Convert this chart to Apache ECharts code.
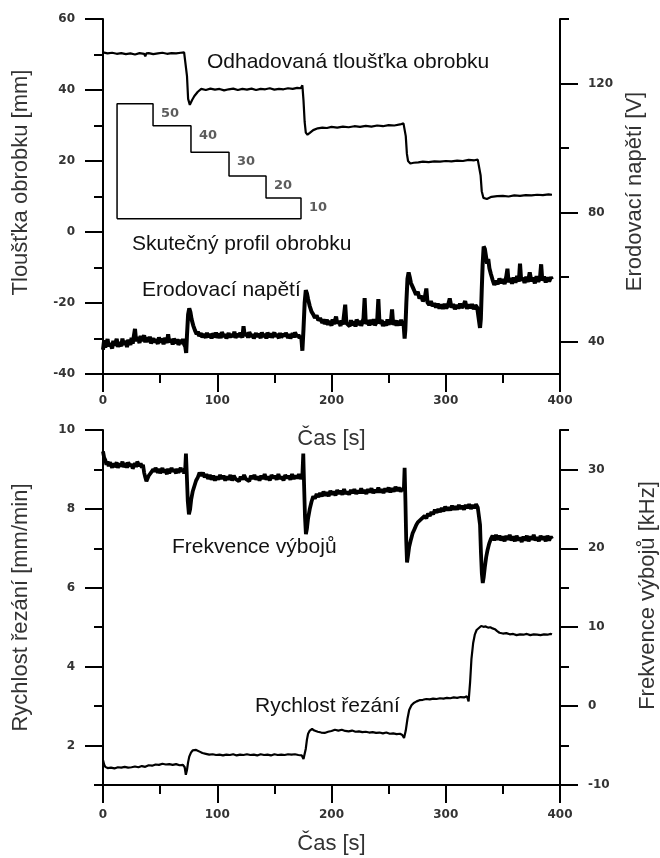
<!DOCTYPE html>
<html><head><meta charset="utf-8">
<script src="https://cdn.jsdelivr.net/npm/echarts@6/dist/echarts.min.js"></script>
<style>html,body{margin:0;padding:0;background:#fff}#c{width:660px;height:858px}</style>
</head><body><div id="c"></div>
<script>
// ---- Data (time [s], value) ----
const thickness = [[0,50.6],[4,50.3],[8,50.5],[12,50.2],[16,50.4],[20,50.1],[24,50.3],[28,50.0],[32,50.4],[36,50.2],[37,49.5],[38,50.3],[40,50.4],[44,50.1],[48,50.3],[52,50.5],[56,50.2],[60,50.4],[64,50.3],[68,50.5],[71,50.6],[72.5,50.4],[73.5,44],[74.5,37.5],[76,35.8],[78,37.2],[80,38.3],[83,39.5],[86,40.3],[90,40.0],[94,40.4],[98,40.1],[102,40.3],[106,39.9],[110,40.2],[114,40.4],[118,40.0],[122,40.3],[126,40.1],[130,40.4],[134,40.0],[138,40.3],[142,40.2],[146,40.5],[150,40.1],[154,40.3],[158,40.2],[162,40.5],[166,40.3],[170,40.6],[173,40.5],[174.5,41.3],[175.5,37],[176.5,31],[177.5,28],[179,27.4],[181,27.9],[184,28.7],[188,29.2],[192,29.4],[196,29.3],[200,29.6],[205,29.4],[210,29.7],[215,29.5],[220,29.8],[225,29.6],[230,29.9],[235,29.7],[240,30.0],[245,29.8],[250,30.1],[255,30.0],[260,30.3],[263,30.6],[264,30.9],[265,27],[266,22],[267,20],[269,19.3],[272,19.5],[276,19.6],[280,19.8],[285,19.7],[290,19.9],[295,19.8],[300,20.0],[305,19.9],[310,20.1],[315,20.0],[320,20.3],[325,20.2],[328,20.4],[329.5,20.6],[330.5,16],[331.5,11.5],[333,9.6],[336,9.3],[340,9.9],[345,10.1],[350,10.2],[355,10.0],[360,10.3],[365,10.2],[370,10.4],[375,10.3],[380,10.5],[385,10.4],[390,10.6],[393,10.5]];

const voltage = [[0,37.5],[1,40.5],[2,38.2],[4,40.8],[5,38.5],[6,39.6],[8,37.9],[9,40.3],[10,38.8],[12,40.9],[13,38.4],[14,39.8],[16,38.6],[17,41.0],[18,39.1],[20,40.2],[21,38.3],[22,40.6],[24,39.0],[25,41.2],[26,39.4],[28,44.0],[29,40.1],[30,41.5],[32,39.6],[33,41.8],[34,40.2],[36,42.0],[37,39.8],[38,41.3],[40,40.0],[41,41.6],[42,39.5],[44,41.1],[45,39.7],[46,40.8],[48,39.3],[49,41.4],[50,39.8],[52,40.9],[53,39.2],[54,41.2],[56,39.6],[57,42.3],[58,39.9],[60,40.7],[61,39.1],[62,41.0],[64,39.5],[65,40.8],[66,39.0],[68,40.6],[69,39.3],[70,40.9],[71,39.2],[72,38.5],[72.8,36.5],[73.5,42],[74.5,48.5],[75.5,50.3],[76.5,49.2],[77.5,47],[79,45],[80.5,43.5],[82,42.3],[83,43.2],[84,41.8],[86,42.6],[87,41.3],[88,42.4],[90,41.2],[91,42.8],[92,41.5],[94,42.3],[95,41.0],[96,42.6],[98,41.4],[99,42.9],[100,41.2],[102,42.5],[103,41.1],[104,43.0],[106,41.5],[107,42.4],[108,41.0],[110,42.7],[111,41.3],[112,42.2],[114,41.6],[115,43.1],[116,41.2],[118,42.5],[119,41.4],[120,42.8],[122,41.3],[123,44.8],[124,41.9],[126,42.6],[127,41.2],[128,43.0],[130,41.5],[131,42.4],[132,41.0],[134,42.7],[135,41.4],[136,42.5],[138,41.1],[139,42.9],[140,41.6],[142,42.3],[143,41.0],[144,42.8],[146,41.4],[147,42.6],[148,41.2],[150,42.9],[151,41.5],[152,42.4],[154,41.1],[155,42.7],[156,41.3],[158,42.5],[159,41.6],[160,42.8],[162,41.2],[163,42.4],[164,41.0],[166,42.6],[167,41.3],[168,42.9],[170,41.5],[171,42.2],[172,41.1],[173.5,41.8],[174.5,37.2],[175.5,44],[176.5,52],[177.5,56.0],[178.5,55.0],[179.5,53.2],[181,51.0],[182.5,49.3],[184,48.5],[185.5,47.4],[187,48.2],[188.5,46.6],[190,47.3],[192,45.8],[193,47.0],[194,45.5],[196,46.8],[197,45.2],[198,46.5],[200,45.0],[201,46.9],[202,45.4],[204,47.8],[205,45.6],[206,46.4],[208,44.9],[209,46.6],[210,45.3],[212,51.5],[213,45.8],[214,46.2],[216,44.8],[217,46.7],[218,45.1],[220,46.3],[221,44.7],[222,46.9],[224,45.2],[225,46.5],[226,44.9],[228,47.2],[229,53.5],[230,45.5],[232,46.6],[233,45.0],[234,46.8],[236,45.3],[237,47.0],[238,45.1],[240,46.4],[241,53.2],[242,45.6],[244,46.7],[245,44.8],[246,46.2],[248,45.0],[249,46.9],[250,45.4],[252,46.3],[253,50.0],[254,45.2],[256,46.6],[257,44.9],[258,46.4],[260,45.1],[261,46.8],[262,45.3],[263,46.0],[264,41.0],[264.6,43.5],[265.5,52],[266.5,59.5],[267.5,61.5],[268.5,60.0],[269.5,58.2],[271,57.0],[272.5,55.8],[274,54.6],[275.5,55.5],[277,53.4],[278.5,54.2],[280,52.6],[281.5,53.3],[283,56.5],[284,52.2],[285.5,51.4],[287,52.6],[288.5,51.0],[290,51.9],[291.5,50.6],[293,51.8],[294.5,50.3],[296,51.5],[297.5,50.2],[299,51.7],[300.5,50.4],[302,51.3],[303.5,53.4],[305,50.6],[306.5,51.6],[308,50.1],[309.5,51.4],[311,50.3],[312.5,51.8],[314,50.5],[315.5,51.2],[317,52.6],[318.5,50.2],[320,51.5],[321.5,50.4],[323,51.6],[324.5,50.1],[326,51.3],[327.5,50.6],[329,51.0],[330,44.3],[330.7,47],[331.5,56],[332.3,64],[333.2,69.5],[334.2,68.8],[335.2,66.5],[336.2,64.2],[337.2,65.6],[338.2,62.8],[339.5,61.0],[341,59.2],[342.5,57.6],[344,58.9],[345.5,57.8],[347,59.6],[348.5,58.1],[350,59.4],[351.5,57.9],[353,60.2],[354,62.6],[355,58.4],[356.5,59.7],[358,58.0],[359.5,59.9],[361,58.3],[362.5,60.4],[364,58.6],[365,64.2],[366,58.9],[367.5,59.8],[369,58.2],[370.5,60.1],[372,58.5],[373.5,61.5],[375,58.7],[376.5,59.9],[378,58.1],[379.5,60.3],[381,58.6],[382.5,59.8],[383.5,64.0],[384.5,58.9],[386,60.2],[387.5,58.4],[389,59.9],[390.5,58.7],[392,60.0],[393,59.3]];

const frequency = [[0,32.3],[1,31.5],[2,31.2],[3,30.6],[4,31.0],[5,30.4],[6,30.9],[8,30.2],[9,30.8],[10,30.3],[12,30.9],[13,30.2],[14,30.7],[16,30.4],[17,31.0],[18,30.3],[20,30.8],[21,30.2],[22,30.9],[24,30.4],[25,30.7],[26,30.1],[28,30.8],[29,30.3],[30,31.0],[32,30.4],[33,30.8],[34,30.2],[35,30.6],[36,29.6],[37,29.0],[38,28.5],[39,28.7],[40,29.2],[41,29.0],[42,29.6],[43,29.4],[44,30.0],[45,29.7],[46,30.2],[48,29.6],[49,30.1],[50,29.5],[52,30.2],[53,29.6],[54,30.0],[56,29.4],[57,30.1],[58,29.5],[60,30.2],[61,29.7],[62,30.0],[64,29.5],[65,30.1],[66,29.6],[68,30.2],[69,29.7],[70,30.0],[71,29.5],[72,30.2],[72.6,32.0],[73.3,29.5],[74.2,26.0],[75.2,24.3],[76.2,24.9],[77.2,26.2],[78.5,27.2],[80,27.9],[81.5,28.6],[83,29.0],[84.5,29.6],[86,29.2],[87.5,29.6],[89,29.0],[90.5,29.4],[92,28.8],[93.5,29.3],[95,28.7],[96.5,29.2],[98,28.6],[99.5,29.1],[101,28.7],[102.5,29.3],[104,28.8],[105.5,29.2],[107,28.6],[108.5,29.1],[110,28.7],[111.5,29.3],[113,28.6],[114.5,29.2],[116,28.8],[117.5,29.0],[119,28.5],[120.5,29.1],[122,28.7],[123.5,29.3],[125,28.8],[126.5,29.0],[128,28.5],[129.5,29.2],[131,28.8],[132.5,29.3],[134,28.7],[135.5,29.1],[137,28.6],[138.5,29.2],[140,28.8],[141.5,29.4],[143,28.7],[144.5,29.1],[146,28.6],[147.5,29.3],[149,28.9],[150.5,29.2],[152,28.7],[153.5,29.4],[155,28.8],[156.5,29.1],[158,28.6],[159.5,29.3],[161,28.9],[162.5,29.2],[164,28.7],[165.5,29.4],[167,28.8],[168.5,29.2],[170,28.9],[171.5,29.4],[173,28.8],[174.5,29.2],[175.3,32.0],[176,28.0],[176.8,24.0],[177.6,21.8],[178.5,22.5],[179.5,23.8],[181,25.0],[182.5,25.9],[184,26.6],[185.5,26.3],[187,26.9],[188.5,26.5],[190,27.0],[191.5,26.6],[193,27.2],[194.5,26.7],[196,27.1],[197.5,26.6],[199,27.3],[200.5,26.8],[202,27.2],[203.5,26.7],[205,27.4],[206.5,26.9],[208,27.3],[209.5,26.8],[211,27.5],[212.5,26.9],[214,27.2],[215.5,26.8],[217,27.4],[218.5,27.0],[220,27.5],[221.5,26.9],[223,27.3],[224.5,27.0],[226,27.6],[227.5,27.0],[229,27.4],[230.5,26.9],[232,27.5],[233.5,27.1],[235,27.6],[236.5,27.0],[238,27.4],[239.5,27.1],[241,27.7],[242.5,27.1],[244,27.5],[245.5,27.0],[247,27.6],[248.5,27.2],[250,27.7],[251.5,27.1],[253,27.6],[254.5,27.2],[256,27.8],[257.5,27.3],[259,27.7],[260.5,27.2],[262,27.6],[263.3,27.3],[264,30.2],[264.7,26.0],[265.4,21.0],[266.1,18.2],[266.9,19.0],[268,20.2],[269.5,21.1],[271,21.9],[272.5,22.4],[274,22.9],[275.5,23.3],[277,23.1],[278.5,23.7],[280,23.5],[281.5,24.1],[283,23.8],[284.5,24.4],[286,24.1],[287.5,24.6],[289,24.3],[290.5,24.9],[292,24.5],[293.5,25.0],[295,24.6],[296.5,25.1],[298,24.7],[299.5,25.3],[301,24.8],[302.5,25.2],[304,24.8],[305.5,25.4],[307,24.9],[308.5,25.3],[310,24.9],[311.5,25.5],[313,25.0],[314.5,25.4],[316,24.9],[317.5,25.5],[319,25.1],[320.5,25.6],[322,25.0],[323.5,25.5],[325,25.1],[326.5,25.6],[328,25.2],[329.2,25.4],[330,23.0],[330.8,19.5],[331.6,16.8],[332.4,15.6],[333.2,16.3],[334.2,17.6],[335.4,18.9],[336.6,19.8],[338,20.6],[339.5,21.2],[341,21.6],[342.5,21.0],[344,21.7],[345.5,21.1],[347,21.6],[348.5,21.0],[350,21.5],[351.5,20.9],[353,21.6],[354.5,21.1],[356,21.7],[357.5,21.0],[359,21.5],[360.5,20.9],[362,21.6],[363.5,21.0],[365,21.4],[366.5,20.8],[368,21.5],[369.5,21.0],[371,21.6],[372.5,20.9],[374,21.5],[375.5,21.1],[377,21.7],[378.5,21.0],[380,21.4],[381.5,20.9],[383,21.6],[384.5,21.1],[386,21.5],[387.5,20.9],[389,21.6],[390.5,21.0],[392,21.5],[393,21.2]];

const cuttingRate = [[0,1.63],[1,1.52],[2,1.46],[4,1.43],[7,1.44],[10,1.42],[13,1.45],[16,1.44],[19,1.46],[22,1.44],[25,1.45],[28,1.47],[31,1.45],[34,1.48],[37,1.46],[40,1.50],[43,1.49],[46,1.52],[49,1.51],[52,1.54],[55,1.52],[58,1.53],[61,1.51],[64,1.53],[67,1.50],[70,1.51],[71.5,1.45],[72.5,1.26],[73.5,1.38],[74.5,1.58],[75.5,1.72],[77,1.82],[78.5,1.88],[80,1.91],[81.5,1.89],[83,1.86],[85,1.84],[87,1.81],[90,1.79],[93,1.77],[96,1.78],[99,1.76],[102,1.77],[105,1.75],[108,1.77],[111,1.76],[114,1.78],[117,1.75],[120,1.77],[123,1.76],[126,1.78],[129,1.76],[132,1.77],[135,1.75],[138,1.78],[141,1.76],[144,1.77],[147,1.75],[150,1.78],[153,1.76],[156,1.77],[159,1.76],[162,1.78],[165,1.77],[168,1.78],[171,1.76],[174,1.75],[175.5,1.66],[176.5,1.70],[177.5,1.92],[178.5,2.15],[179.5,2.30],[181,2.38],[183,2.42],[185,2.38],[188,2.35],[191,2.33],[194,2.32],[197,2.35],[200,2.37],[203,2.40],[206,2.38],[209,2.40],[212,2.37],[215,2.36],[218,2.38],[221,2.35],[224,2.36],[227,2.34],[230,2.35],[233,2.33],[236,2.34],[239,2.32],[242,2.33],[245,2.31],[248,2.33],[251,2.30],[254,2.31],[257,2.29],[260,2.30],[262,2.27],[263.5,2.19],[265,2.38],[266.5,2.68],[268,2.90],[270,3.02],[272,3.08],[274.5,3.12],[277,3.15],[280,3.16],[283,3.18],[286,3.17],[289,3.19],[292,3.18],[295,3.20],[298,3.19],[301,3.21],[304,3.20],[307,3.22],[310,3.21],[313,3.23],[316,3.22],[318.5,3.25],[320,3.12],[321.3,3.60],[322.5,4.20],[324,4.60],[325.5,4.82],[327,4.93],[329,4.98],[331,5.03],[333,5.01],[335,5.02],[337,4.99],[339,5.00],[341,4.97],[343,4.95],[345,4.90],[347,4.86],[350,4.84],[353,4.85],[356,4.82],[359,4.83],[362,4.80],[365,4.82],[368,4.81],[371,4.83],[374,4.80],[377,4.82],[380,4.81],[383,4.80],[386,4.82],[389,4.81],[392,4.83],[393,4.82]];

// real workpiece profile sketch (time-axis units, mm)
const profileT  = [12.3, 12.3, 43.8, 43.8, 77, 77, 110.3, 110.3, 142.7, 142.7, 173.3, 173.3, 12.3];
const profileMM = [3.7, 36.1, 36.1, 29.9, 29.9, 22.5, 22.5, 15.8, 15.8, 9.6, 9.6, 3.7, 3.7];
const stepLabels = ['50', '40', '30', '20', '10'];
const stepCornerIdx = [2, 4, 6, 8, 10];

// tick values
const thickTicks = [-40, -20, 0, 20, 40, 60];
const thickMinor = [-30, -10, 10, 30, 50];
const voltTicks = [40, 80, 120];
const voltMinor = [60, 100, 140];
const rateTicks = [2, 4, 6, 8, 10];
const rateMinor = [1, 3, 5, 7, 9];
const freqTicks = [-10, 0, 10, 20, 30];
const freqMinor = [-5, 5, 15, 25, 35];

// ---- Chart ----
const AX = '#000';
const TICKFONT = {fontFamily: 'DejaVu Sans', fontWeight: 'bold', fontSize: 12, color: '#333'};
const TITLEFONT = {fontFamily: '"Liberation Sans", Arial, sans-serif', fontSize: 22, color: '#333'};

function yPair(grid, pos, min, max, major, minor, name, gap, pad) {
  return [{
    type: 'value', gridIndex: grid, position: pos, min: min, max: max,
    axisLine: {show: true, onZero: false, lineStyle: {color: AX, width: 2}},
    axisTick: {show: true, length: 18, customValues: major, lineStyle: {color: AX, width: 2}},
    axisLabel: Object.assign({show: true, customValues: major, margin: 28}, TICKFONT),
    splitLine: {show: false},
    name: name, nameLocation: 'middle', nameGap: gap,
    nameTextStyle: Object.assign({padding: pad}, TITLEFONT)
  }, {
    type: 'value', gridIndex: grid, position: pos, min: min, max: max,
    axisLine: {show: false, onZero: false},
    axisTick: {show: true, length: 9, customValues: minor, lineStyle: {color: AX, width: 2}},
    axisLabel: {show: false},
    splitLine: {show: false}
  }];
}
function xAx(grid, gap, margin) {
  return {
    type: 'value', gridIndex: grid, min: 0, max: 400, interval: 100,
    axisLine: {onZero: false, lineStyle: {color: AX, width: 2}},
    axisTick: {length: 18, lineStyle: {color: AX, width: 2}},
    minorTick: {show: true, splitNumber: 2, length: 9, lineStyle: {color: AX, width: 2}},
    axisLabel: Object.assign({margin: margin}, TICKFONT),
    splitLine: {show: false}, minorSplitLine: {show: false},
    name: 'Čas [s]', nameLocation: 'middle', nameGap: gap, nameTextStyle: TITLEFONT
  };
}

const profileData = profileT.map((t, i) => [t, profileMM[i]]);
const stepLabelData = stepCornerIdx.map((idx, k) => ({value: [profileT[idx], profileMM[idx]], name: stepLabels[k]}));

const yAxes = [].concat(
  yPair(0, 'left', -40, 60, thickTicks, thickMinor, 'Tloušťka obrobku [mm]', 71, [0, 0, 0, 28]),
  yPair(0, 'right', 30, 140, voltTicks, voltMinor, 'Erodovací napětí [V]', 53, [0, 0, 0, 10]),
  yPair(1, 'left', 1, 10, rateTicks, rateMinor, 'Rychlost řezání [mm/min]', 71, [0, 0, 0, 0]),
  yPair(1, 'right', -10, 35, freqTicks, freqMinor, 'Frekvence výbojů [kHz]', 77, [0, 0, 0, 24])
);

const lineBase = {type: 'line', showSymbol: false, symbol: 'none', silent: true, animation: false, smooth: false};
const ANN = '21px "Liberation Sans", Arial, sans-serif';

const chart = echarts.init(document.getElementById('c'), null, {renderer: 'canvas'});
chart.setOption({
  backgroundColor: '#fff',
  animation: false,
  grid: [
    {left: 103, right: 100, top: 19, height: 355, outerBoundsMode: 'none', containLabel: false},
    {left: 103, right: 100, top: 430, height: 355, outerBoundsMode: 'none', containLabel: false}
  ],
  xAxis: [xAx(0, 54, 21), xAx(1, 48, 24)],
  yAxis: yAxes,
  series: [
    Object.assign({}, lineBase, {name: 'Odhadovaná tloušťka obrobku', xAxisIndex: 0, yAxisIndex: 0, data: thickness, lineStyle: {color: '#000', width: 2.2}}),
    Object.assign({}, lineBase, {name: 'Skutečný profil obrobku', xAxisIndex: 0, yAxisIndex: 0, data: profileData, lineStyle: {color: '#000', width: 1.5}}),
    {type: 'scatter', xAxisIndex: 0, yAxisIndex: 0, symbolSize: 0, silent: true, animation: false, data: stepLabelData,
      itemStyle: {color: 'rgba(0,0,0,0)'},
      label: {show: true, position: [8, 3], formatter: p => p.name, fontFamily: 'DejaVu Sans', fontWeight: 'bold', fontSize: 13, color: '#333'}},
    Object.assign({}, lineBase, {name: 'Erodovací napětí', xAxisIndex: 0, yAxisIndex: 2, data: voltage, lineStyle: {color: '#000', width: 4}}),
    Object.assign({}, lineBase, {name: 'Rychlost řezání', xAxisIndex: 1, yAxisIndex: 4, data: cuttingRate, lineStyle: {color: '#000', width: 2.2}}),
    Object.assign({}, lineBase, {name: 'Frekvence výbojů', xAxisIndex: 1, yAxisIndex: 6, data: frequency, lineStyle: {color: '#000', width: 3.8}})
  ],
  graphic: [
    {type: 'text', left: 207, top: 52, silent: true, style: {text: 'Odhadovaná tloušťka obrobku', font: ANN, fill: '#111'}},
    {type: 'text', left: 132, top: 234, silent: true, style: {text: 'Skutečný profil obrobku', font: ANN, fill: '#111'}},
    {type: 'text', left: 142, top: 280, silent: true, style: {text: 'Erodovací napětí', font: ANN, fill: '#111'}},
    {type: 'text', left: 172, top: 537, silent: true, style: {text: 'Frekvence výbojů', font: ANN, fill: '#111'}},
    {type: 'text', left: 255, top: 696, silent: true, style: {text: 'Rychlost řezání', font: ANN, fill: '#111'}}
  ]
});
</script>
</body></html>
